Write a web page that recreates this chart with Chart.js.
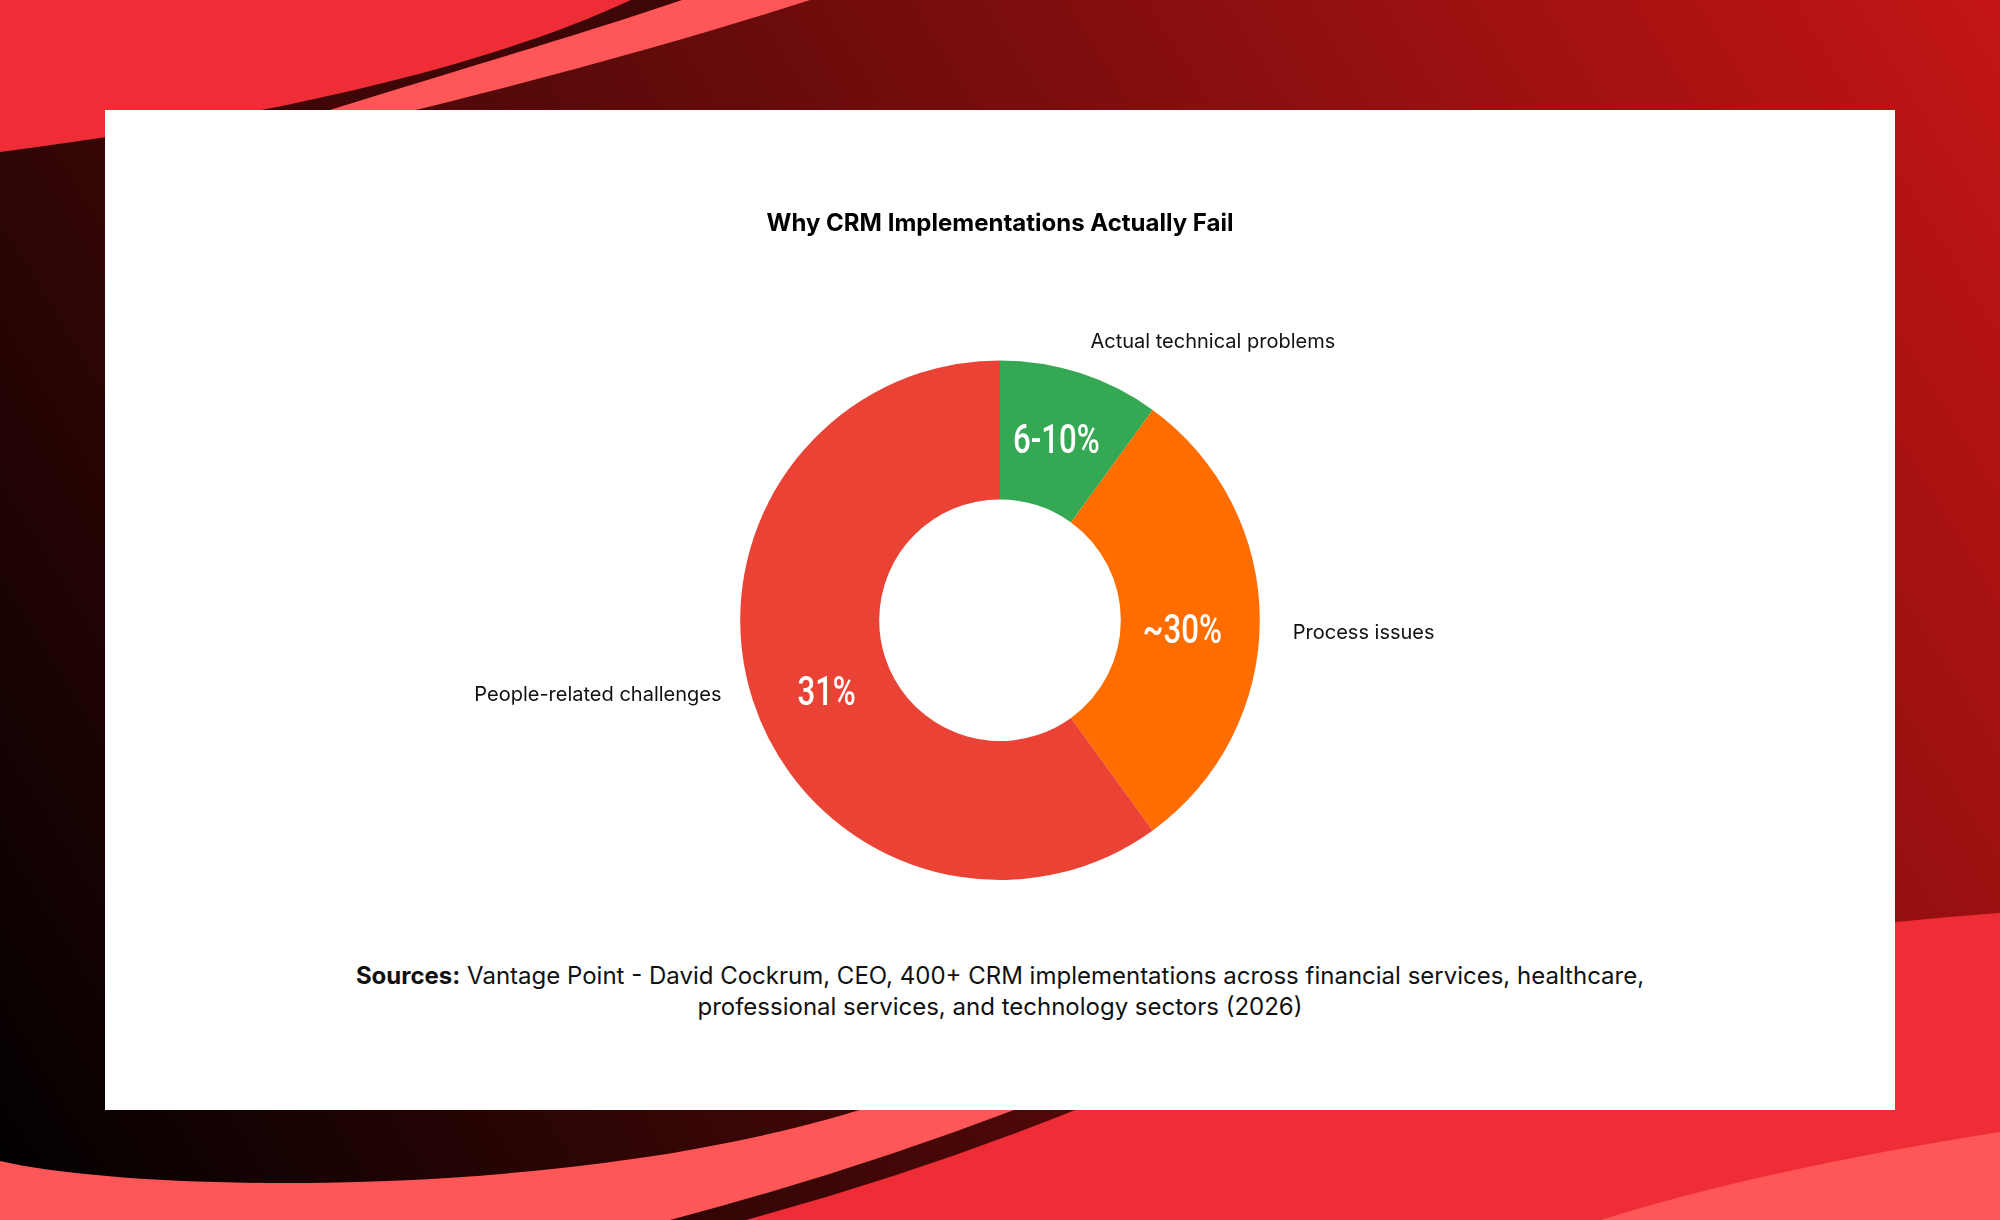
<!DOCTYPE html>
<html>
<head>
<meta charset="utf-8">
<title>Why CRM Implementations Actually Fail</title>
<script src="https://cdn.jsdelivr.net/npm/chart.js@4.4.1/dist/chart.umd.min.js"></script>
<style>
    html, body {
        margin: 0;
        padding: 0;
        width: 2000px;
        height: 1220px;
        overflow: hidden;
        font-family: 'Inter', 'Noto Sans', sans-serif;
    }
    #backdrop {
        position: absolute;
        left: 0;
        top: 0;
    }
    .card {
        position: absolute;
        left: 105px;
        top: 110px;
        width: 1790px;
        height: 1000px;
        background: #ffffff;
    }
    .chart-box {
        position: absolute;
        left: 0;
        top: 0;
        width: 1790px;
        height: 800px;
    }
    .sources {
        position: absolute;
        left: 0;
        top: 850px;
        width: 1790px;
        text-align: center;
        font-size: 24px;
        line-height: 31px;
        color: #111;
    }
    .sources b {
        font-weight: 700;
    }
</style>
</head>
<body>
<svg id="backdrop" width="2000" height="1220" viewBox="0 0 2000 1220">
    <defs>
        <linearGradient id="bgGrad" gradientUnits="userSpaceOnUse" x1="0" y1="1220" x2="2000" y2="0">
            <stop offset="0" stop-color="#000000"/>
            <stop offset="1" stop-color="#c41515"/>
        </linearGradient>
    </defs>
    <rect x="0" y="0" width="2000" height="1220" fill="url(#bgGrad)"/>
    <!-- top-left swoosh -->
    <path d="M300,0 L682,0 C520,55 330,105 150,170 L110,140 Z" fill="#3e0606"/>
    <path d="M682,0 L810,0 C640,55 400,118 150,170 C330,105 520,55 682,0 Z" fill="#ff5757"/>
    <path d="M0,0 L631,0 C480,70 260,118 0,152 Z" fill="#ef2d36"/>
    <!-- bottom swooshes -->
    <path d="M0,1161 C150,1195 600,1200 890,1100 L1040,1100 Q 860,1170 670,1220 L0,1220 Z" fill="#ff5757"/>
    <path d="M2000,913 C1700,935 1300,1000 1100,1100 Q 930,1170 746,1220 L2000,1220 Z" fill="#ef2d36"/>
    <path d="M2000,1132 Q1760,1170 1601,1220 L2000,1220 Z" fill="#ff5757"/>
</svg>

<div class="card">
    <div class="chart-box"><canvas id="failChart"></canvas></div>
    <div class="sources"><b>Sources:</b> Vantage Point - David Cockrum, CEO, 400+ CRM implementations across financial services, healthcare,<br>professional services, and technology sectors (2026)</div>
</div>

<script>
// --- chart data ---
const categories = ['Actual technical problems', 'Process issues', 'People-related challenges'];
const shareValues = [10, 30, 60];
const sliceTexts = ['6-10%', '~30%', '31%'];
const sliceColors = ['#34a853', '#ff6d01', '#ea4335'];

// draws the white value text inside each slice and the category name outside it
const sliceLabelPlugin = {
    id: 'sliceLabels',
    afterDatasetsDraw(chart) {
        const ctx = chart.ctx;
        const meta = chart.getDatasetMeta(0);
        meta.data.forEach(function(arc, i) {
            const p = arc.getProps(['x', 'y', 'startAngle', 'endAngle', 'outerRadius', 'innerRadius'], true);
            const mid = (p.startAngle + p.endAngle) / 2;
            const cos = Math.cos(mid);
            const sin = Math.sin(mid);

            // value text, condensed look (side slices sit a little lower / inward)
            const rIn = (p.outerRadius + p.innerRadius) / 2;
            const inX = p.x + rIn * cos - 8 * cos;
            const inY = p.y + rIn * sin + 13 * Math.abs(cos) + 12 * Math.max(sin, 0);
            ctx.save();
            ctx.translate(inX, inY);
            ctx.scale(0.78, 1);
            ctx.fillStyle = '#ffffff';
            ctx.font = '500 40px Roboto';
            ctx.textAlign = 'center';
            ctx.textBaseline = 'middle';
            ctx.fillText(sliceTexts[i], 0, 0);
            ctx.restore();

            // category label outside the ring; side labels share the value's line
            const rOut = p.outerRadius + 33;
            const outY = Math.abs(cos) > 0.7 ? inY : p.y + rOut * sin;
            ctx.save();
            ctx.fillStyle = '#111111';
            ctx.font = '20px Inter';
            ctx.textAlign = cos >= 0 ? 'left' : 'right';
            ctx.textBaseline = 'middle';
            ctx.fillText(categories[i], p.x + rOut * cos, outY);
            ctx.restore();
        });
    }
};

function createFailChart() {
    const ctx = document.getElementById('failChart');
    if (!ctx) return;

    new Chart(ctx, {
        type: 'doughnut',
        data: {
            labels: categories,
            datasets: [{
                data: shareValues,
                backgroundColor: sliceColors,
                borderWidth: 0,
                hoverOffset: 0
            }]
        },
        options: {
            responsive: true,
            maintainAspectRatio: false,
            animation: false,
            cutout: '46.5%',
            layout: {
                padding: { top: 0, bottom: 30, left: 0, right: 0 }
            },
            plugins: {
                legend: { display: false },
                tooltip: { enabled: false },
                title: {
                    display: true,
                    text: 'Why CRM Implementations Actually Fail',
                    color: '#000000',
                    font: { family: 'Inter', size: 24, weight: 'bold' },
                    padding: { top: 99, bottom: 122.6 }
                }
            }
        },
        plugins: [sliceLabelPlugin]
    });
}

createFailChart();
</script>
</body>
</html>
